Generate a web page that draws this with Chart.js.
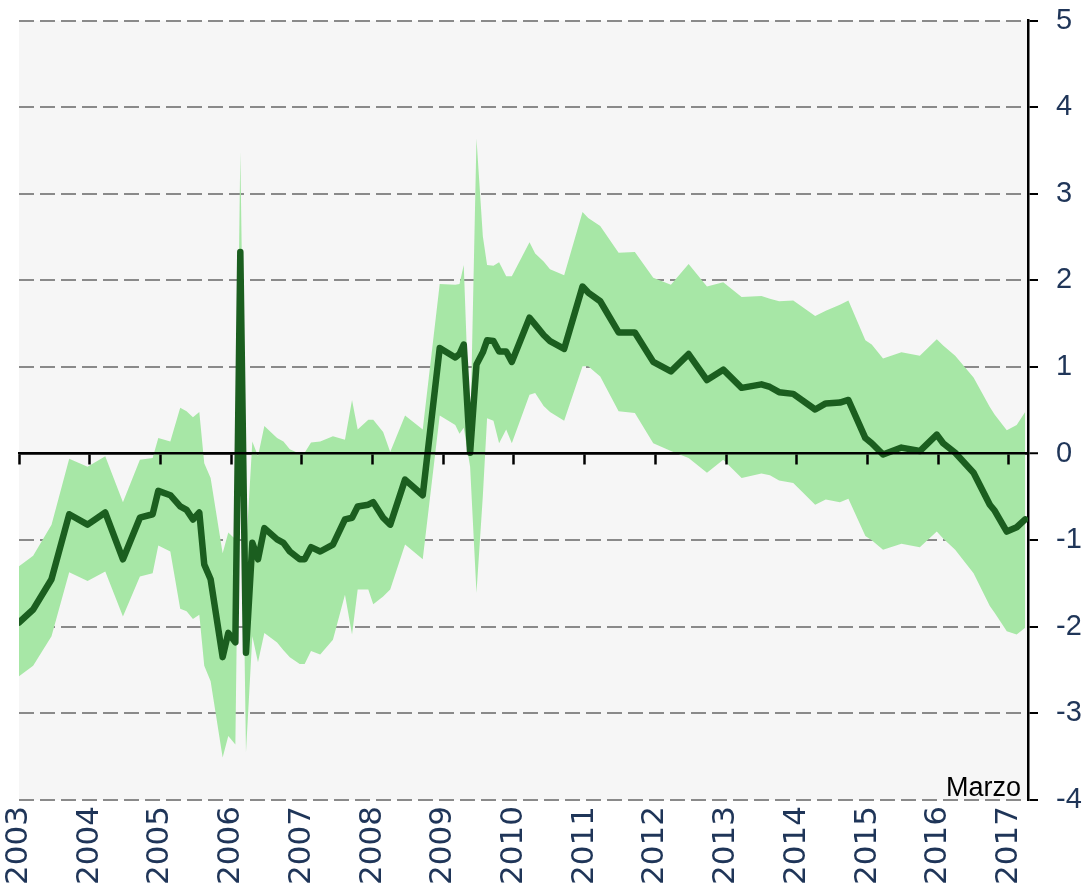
<!DOCTYPE html>
<html>
<head>
<meta charset="utf-8">
<script src="https://cdn.jsdelivr.net/npm/chart.js@4.4.1/dist/chart.umd.min.js"></script>
<style>
html,body{margin:0;padding:0;background:#ffffff;overflow:hidden;}
#wrap{width:1084px;height:886px;position:relative;}
</style>
</head>
<body>
<div id="wrap"><canvas id="c" width="1084" height="886"></canvas></div>
<script>
// ---- Data (decimal years) ----
const dates = [
  2003.00,2003.20,2003.46,2003.71,2003.97,2004.22,2004.47,2004.71,2004.89,2004.97,
  2005.14,2005.28,2005.37,2005.46,2005.55,2005.62,2005.71,2005.88,2005.96,2006.06,
  2006.13,2006.21,2006.30,2006.38,2006.47,2006.65,2006.74,2006.83,2006.97,2007.04,
  2007.13,2007.26,2007.44,2007.61,2007.71,2007.79,2007.94,2008.01,2008.15,2008.25,
  2008.46,2008.71,2008.95,2009.17,2009.23,2009.29,2009.38,2009.47,2009.56,2009.62,
  2009.71,2009.79,2009.89,2009.97,2010.22,2010.30,2010.42,2010.51,2010.71,2010.97,
  2011.05,2011.22,2011.48,2011.71,2011.97,2012.22,2012.47,2012.73,2012.96,2013.22,
  2013.50,2013.62,2013.75,2013.95,2014.26,2014.41,2014.61,2014.73,2014.97,2015.06,
  2015.22,2015.48,2015.74,2015.98,2016.07,2016.24,2016.50,2016.73,2016.80,2016.97,
  2017.11,2017.23
];
const central = [
  -1.95,-1.80,-1.45,-0.70,-0.82,-0.68,-1.22,-0.74,-0.70,-0.43,
  -0.48,-0.61,-0.65,-0.76,-0.68,-1.28,-1.45,-2.35,-2.07,-2.18,
  2.33,-2.30,-1.03,-1.22,-0.86,-0.99,-1.03,-1.13,-1.22,-1.22,
  -1.08,-1.13,-1.05,-0.76,-0.74,-0.61,-0.59,-0.56,-0.74,-0.82,
  -0.30,-0.48,1.22,1.11,1.15,1.26,0.01,1.03,1.17,1.31,
  1.30,1.18,1.18,1.06,1.57,1.49,1.37,1.30,1.21,1.93,
  1.86,1.76,1.40,1.40,1.06,0.95,1.15,0.85,0.97,0.76,
  0.80,0.77,0.71,0.69,0.51,0.58,0.59,0.62,0.18,0.12,
  -0.01,0.07,0.03,0.22,0.12,0.01,-0.22,-0.59,-0.66,-0.90,
  -0.85,-0.76
];
const upper = [
  -1.30,-1.18,-0.82,-0.06,-0.15,-0.03,-0.56,-0.07,-0.05,0.18,
  0.14,0.53,0.49,0.42,0.48,-0.11,-0.28,-1.15,-0.91,-0.99,
  3.49,-1.13,0.14,-0.03,0.32,0.18,0.14,0.05,0.00,0.01,
  0.13,0.14,0.20,0.16,0.62,0.28,0.39,0.39,0.25,0.02,
  0.44,0.28,1.96,1.95,1.96,2.18,0.15,3.64,2.51,2.18,
  2.17,2.21,2.05,2.05,2.44,2.31,2.22,2.13,2.06,2.79,
  2.72,2.63,2.32,2.33,2.03,1.95,2.19,1.93,1.98,1.81,
  1.82,1.79,1.76,1.77,1.59,1.65,1.72,1.77,1.31,1.26,
  1.10,1.17,1.13,1.32,1.25,1.13,0.88,0.54,0.45,0.27,
  0.33,0.48
];
const lower = [
  -2.57,-2.45,-2.11,-1.37,-1.47,-1.36,-1.88,-1.42,-1.38,-1.06,
  -1.13,-1.79,-1.82,-1.91,-1.86,-2.45,-2.63,-3.51,-3.26,-3.36,
  1.17,-3.45,-2.11,-2.41,-2.07,-2.18,-2.27,-2.35,-2.43,-2.43,
  -2.28,-2.32,-2.15,-1.63,-2.09,-1.57,-1.57,-1.74,-1.65,-1.57,
  -1.05,-1.22,0.44,0.33,0.23,0.30,-0.15,-1.61,-0.49,0.41,
  0.38,0.12,0.28,0.12,0.68,0.70,0.55,0.48,0.38,1.01,
  1.01,0.89,0.49,0.47,0.12,0.03,-0.05,-0.22,-0.07,-0.28,
  -0.23,-0.25,-0.31,-0.34,-0.59,-0.53,-0.56,-0.52,-0.95,-1.00,
  -1.11,-1.04,-1.08,-0.90,-0.98,-1.11,-1.38,-1.76,-1.84,-2.05,
  -2.09,-2.01
];
const yearLabels = ['2003','2004','2005','2006','2007','2008','2009','2010','2011','2012','2013','2014','2015','2016','2017'];
const yTickLabels = ['-4','-3','-2','-1','0','1','2','3','4','5'];
const noteText = 'Marzo';

const X_MIN = 2003, X_MAX = 2017.27;
const toPts = arr => dates.map((d, i) => ({x: d, y: arr[i]}));

const bgPlugin = {
  id: 'bg',
  beforeDraw(chart) {
    const {ctx, chartArea: a} = chart;
    ctx.save();
    ctx.fillStyle = '#ffffff';
    ctx.fillRect(0, 0, chart.width, chart.height);
    ctx.fillStyle = '#f6f6f6';
    ctx.fillRect(a.left, a.top, a.right - a.left, a.bottom - a.top);
    ctx.restore();
  }
};
const notePlugin = {
  id: 'note',
  afterDraw(chart) {
    const {ctx, chartArea: a} = chart;
    ctx.save();
    ctx.font = '27px "Liberation Sans", Arial, sans-serif';
    ctx.fillStyle = '#000000';
    ctx.textAlign = 'right';
    ctx.textBaseline = 'alphabetic';
    ctx.fillText(noteText, a.right - 7, a.bottom - 4);
    ctx.restore();
  }
};

new Chart(document.getElementById('c').getContext('2d'), {
  type: 'line',
  data: {
    datasets: [
      {label: 'Central', data: toPts(central), borderColor: '#1b5e1f', borderWidth: 6.5,
       pointRadius: 0, fill: false, tension: 0, borderJoinStyle: 'round', borderCapStyle: 'round'},
      {label: 'Superior', data: toPts(upper), borderColor: 'rgba(0,0,0,0)', borderWidth: 0,
       backgroundColor: '#a7e7a6', pointRadius: 0, fill: '+1', tension: 0},
      {label: 'Inferior', data: toPts(lower), borderColor: 'rgba(0,0,0,0)', borderWidth: 0,
       pointRadius: 0, fill: false, tension: 0}
    ]
  },
  options: {
    responsive: false,
    animation: false,
    events: [],
    layout: {padding: {left: 19, top: 20.7, right: 0, bottom: 0}},
    plugins: {legend: {display: false}, tooltip: {enabled: false}, title: {display: false}},
    scales: {
      x: {
        type: 'linear', position: {y: 0}, min: X_MIN, max: X_MAX,
        ticks: {display: false, stepSize: 1, includeBounds: false},
        grid: {drawOnChartArea: false, drawTicks: true, tickLength: 10, tickColor: '#000000', tickWidth: 2.5, z: 1},
        border: {display: true, color: '#000000', width: 2.5, z: 1}
      },
      xb: {
        type: 'linear', axis: 'x', position: 'bottom', min: X_MIN, max: X_MAX,
        ticks: {
          stepSize: 1, includeBounds: false, autoSkip: false, minRotation: 90, maxRotation: 90,
          padding: 6, color: '#1f3558',
          font: {family: '"DejaVu Sans", sans-serif', size: 31},
          callback: v => yearLabels[Math.round(v) - 2003] || ''
        },
        grid: {display: false, drawTicks: false},
        border: {display: false},
        afterFit: s => { s.height = 86; s.paddingLeft = 0; s.paddingRight = 0; }
      },
      y: {
        position: 'right', min: -4, max: 5,
        ticks: {
          stepSize: 1, padding: 18, color: '#1f3558',
          font: {family: '"Liberation Sans", Arial, sans-serif', size: 29},
          callback: v => yTickLabels[Math.round(v) + 4]
        },
        grid: {
          color: c => (c.tick && c.tick.value === 0) ? '#000000' : '#8a8a8a',
          lineWidth: c => (c.tick && c.tick.value === 0) ? 2.5 : 2,
          tickColor: '#000000', tickWidth: 2, tickLength: 10
        },
        border: {display: true, color: '#000000', width: 2.5,
                 dash: c => (c.tick && c.tick.value === 0) ? [] : [15, 6]},
        afterFit: s => { s.width = 56; s.paddingTop = 0; s.paddingBottom = 0; }
      }
    }
  },
  plugins: [bgPlugin, notePlugin]
});
</script>
</body>
</html>
